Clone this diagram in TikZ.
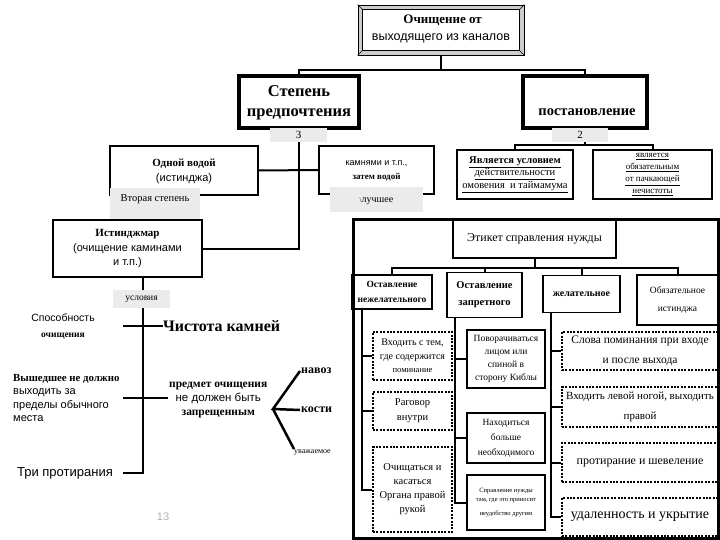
\documentclass[tikz,border=0pt]{standalone}
\usepackage{fontspec}
\setmainfont{Liberation Serif}
\newfontfamily\sansf{Liberation Sans}
\newcommand\fsz[2]{\fontsize{#1}{#2}\selectfont}
\begin{document}
\begin{tikzpicture}[x=1pt,y=-1pt,
  conn/.style={line width=2pt},
  tbox/.style={draw, line width=4pt},
  box/.style={draw, line width=1.6pt, align=center, inner sep=1pt},
  dbox/.style={draw, line width=1.6pt, dash pattern=on 2pt off 1.4pt, align=center, inner sep=1pt},
  lbl/.style={fill=gray!16, inner sep=0pt},
  txt/.style={align=center, inner sep=1pt}]
\useasboundingbox (0,0) rectangle (720,540);
\fill[white] (0,0) rectangle (720,540);

% ---- top bevel box
\node[draw, fill=gray!40, line width=0.8pt, minimum width=166pt, minimum height=50pt] (top) at (441,30) {};
\draw[fill=white, line width=0.8pt] ([xshift=5pt,yshift=-5pt]top.north west) rectangle ([xshift=-5pt,yshift=5pt]top.south east);
\draw[line width=0.6pt] (top.north west) -- ([xshift=5pt,yshift=-5pt]top.north west);
\draw[line width=0.6pt] (top.north east) -- ([xshift=-5pt,yshift=-5pt]top.north east);
\draw[line width=0.6pt] (top.south west) -- ([xshift=5pt,yshift=5pt]top.south west);
\draw[line width=0.6pt] (top.south east) -- ([xshift=-5pt,yshift=5pt]top.south east);
\node[txt, font=\fsz{12.5}{17}] (toptxt) at (441,29) {{\bfseries\fsz{13}{17} Очищение от}\\{\sansf выходящего из каналов}};

% ---- second level
\node[tbox, minimum width=120pt, minimum height=52pt] (step) at (299,102) {};
\node[txt, font=\bfseries\fsz{16.5}{20}] (steptxt) at (299,103) {Степень\\предпочтения};
\node[tbox, minimum width=124pt, minimum height=52pt] (post) at (585,102) {};
\node[txt, font=\bfseries\fsz{14.5}{16}] (posttxt) at (587,112) {постановление};

\draw[conn] (top.south) -- ++(0,15) -| (step.north);
\draw[conn] (top.south) ++(0,15) -| (post.north);

% ---- left branch boxes
\node[box, line width=1.4pt, minimum width=148pt, minimum height=49pt] (odnoy) at (184,170.5) {};
\node[txt, font=\fsz{11}{15}] (odnoytxt) at (184,171) {{\bfseries Одной водой}\\{\sansf (истинджа)}};
\node[box, line width=1.4pt, minimum width=115pt, minimum height=48pt] (kamn) at (376.5,170) {};
\node[txt, font=\fsz{9}{14}] (kamntxt) at (376.5,171) {{\sansf камнями и т.п.,}\\{\bfseries затем водой}};
\node[box, line width=1.4pt, minimum width=149pt, minimum height=57pt] (istinj) at (127.5,248.5) {};
\node[txt, font=\fsz{11}{14.5}] (istinjtxt) at (127.5,249) {{\bfseries Истинджмар}\\{\sansf (очищение каминами}\\{\sansf и т.п.)}};

\draw[conn] (odnoy.east) -- (kamn.west);
\draw[conn] (step.south) |- (istinj.east);

\node[lbl, minimum width=57pt, minimum height=14pt, font=\fsz{11}{13}] (l3) at (298.5,135) {3};
\node[lbl, minimum width=90pt, minimum height=31pt] (l2st) at (155,203.5) {};
\node[font=\fsz{10.5}{12}, inner sep=0pt] (l2sttxt) at (155,199) {Вторая степень};
\node[lbl, minimum width=93pt, minimum height=25pt] (lbest) at (376.5,199.5) {};
\node[font=\fsz{10}{12}, inner sep=0pt] (lbesttxt) at (376.5,201) {{\fsz{7}{8}\textbackslash}лучшее};

% ---- right branch boxes
\node[box, line width=1.4pt, minimum width=116pt, minimum height=49pt, font=\fsz{10.5}{12.5}] (usl) at (515,174.5) {\underline{\bfseries Является условием}\\\underline{действительности}\\\underline{омовения\ \ и таймамума}};
\node[box, line width=1.4pt, minimum width=119pt, minimum height=49pt, font=\fsz{9}{12}] (obz) at (652.5,174.5) {\underline{является}\\\underline{обязательным}\\\underline{от пачкающей}\\\underline{нечистоты}};
\draw[conn] (post.south) -- ++(0,15) -| (usl.north);
\draw[conn] (post.south) ++(0,15) -| (obz.north);
\node[lbl, minimum width=56pt, minimum height=14pt, font=\fsz{11}{13}] (l2) at (580,135) {2};

% ---- big frame
\node[draw, line width=3pt, minimum width=365pt, minimum height=318pt] (frame) at (535.5,379) {};
\node[box, line width=2pt, minimum width=163pt, minimum height=38pt, font=\fsz{12}{14}] (etik) at (534.5,239) {Этикет справления нужды};

\node[box, minimum width=80pt, minimum height=34pt, font=\bfseries\fsz{9.5}{15}] (ostN) at (392,292) {Оставление\\нежелательного};
\node[box, minimum width=75pt, minimum height=45pt, font=\bfseries\fsz{10.5}{17}] (ostZ) at (484.5,295) {Оставление\\запретного};
\node[box, minimum width=77pt, minimum height=37pt, font=\bfseries\fsz{10}{12}] (zhel) at (581.5,294) {желательное};
\node[box, minimum width=81pt, minimum height=50pt, font=\fsz{9.5}{18}] (obyaz) at (677.5,300) {Обязательное\\истинджа};

\draw[conn] (etik.south) -- ++(0,9) -| (ostN.north);
\draw[conn] (etik.south) ++(0,9) -| (ostZ.north);
\draw[conn] (etik.south) ++(0,9) -| (zhel.north);
\draw[conn] (etik.south) ++(0,9) -| (obyaz.north);

% column 1
\node[dbox, minimum width=79pt, minimum height=48pt, font=\fsz{10}{13.5}] (c1a) at (412.5,356) {Входить с тем,\\где содержится\\{\fsz{8.5}{10}поминание}};
\node[dbox, minimum width=79pt, minimum height=38pt, font=\fsz{10.5}{15}] (c1b) at (412.5,411) {Раговор\\внутри};
\node[dbox, minimum width=79pt, minimum height=85pt, font=\fsz{10.5}{14}] (c1c) at (412.5,489.5) {Очищаться и\\касаться\\Органа правой\\рукой};
\draw[conn] ([xshift=-30pt]ostN.south) |- (c1a.west);
\draw[conn] ([xshift=-30pt]ostN.south) |- (c1b.west);
\draw[conn] ([xshift=-30pt]ostN.south) |- (c1c.west);

% column 2
\node[box, minimum width=78pt, minimum height=58pt, font=\fsz{9.5}{13}] (c2a) at (506,359) {Поворачиваться\\лицом или\\спиной в\\сторону Киблы};
\node[box, minimum width=78pt, minimum height=50pt, font=\fsz{9.5}{15}] (c2b) at (506,438) {Находиться\\больше\\необходимого};
\node[box, minimum width=78pt, minimum height=55pt, font=\fsz{6.5}{9}] (c2c) at (506,502.5) {Справление нужды\\там, где это приносит\\[5pt]неудобство другим};
\draw[conn] ([xshift=-29.5pt]ostZ.south) |- (c2a.west);
\draw[conn] ([xshift=-29.5pt]ostZ.south) |- (c2b.west);
\draw[conn] ([xshift=-29.5pt]ostZ.south) |- (c2c.west);

% column 3
\node[dbox, minimum width=156pt, minimum height=38pt, font=\fsz{11.5}{20}] (c3a) at (640,351) {Слова поминания при входе\\и после выхода};
\node[dbox, minimum width=156pt, minimum height=40pt, font=\fsz{11}{20}] (c3b) at (640,407) {Входить левой ногой, выходить\\правой};
\node[dbox, minimum width=156pt, minimum height=39pt, font=\fsz{12}{14}] (c3c) at (640,462.5) {протирание и шевеление};
\node[dbox, minimum width=156pt, minimum height=38pt, font=\fsz{14}{16}] (c3d) at (640,517) {удаленность и укрытие};
\draw[conn] ([xshift=-30.5pt]zhel.south) |- (c3a.west);
\draw[conn] ([xshift=-30.5pt]zhel.south) |- (c3b.west);
\draw[conn] ([xshift=-30.5pt]zhel.south) |- (c3c.west);
\draw[conn] ([xshift=-30.5pt]zhel.south) |- (c3d.west);

% ---- lower left tree
\coordinate (istb) at ([xshift=15.5pt]istinj.south);
\coordinate (s1) at (123,326);
\coordinate (s2) at (123,398);
\coordinate (s3) at (123,473);
\node[font=\bfseries\fsz{16}{18}, anchor=west, inner sep=0pt] (chist) at (163,326) {Чистота камней};
\node[txt, anchor=west, font=\fsz{11.5}{14}] (predm) at (168,400) {{\bfseries предмет очищения}\\{\sansf не должен быть}\\{\bfseries запрещенным}};
\draw[conn, line width=2.5pt] (istb) -- (istb |- s3) -- (s3);
\draw[conn] (s1) -- (chist.west);
\draw[conn] (s2) -- (predm.west |- s2);
\node[lbl, minimum width=57pt, minimum height=18pt, font=\fsz{9.5}{11}] (lusl) at (141.5,299) {условия};

\node[txt, font=\fsz{10.5}{16}] (sposob) at (63,326) {{\sansf Способность}\\{\bfseries\fsz{9.5}{11}очищения}};
\node[align=left, anchor=north west, inner sep=0pt, font=\fsz{11}{13.5}] (vysh) at (13,374) {{\bfseries\fsz{10.8}{13.5}Вышедшее не должно}\\{\sansf выходить за}\\{\sansf пределы обычного}\\{\sansf места}};
\node[font=\sansf\fsz{13}{15}, anchor=east, inner sep=0pt] (tri) at (113,473) {Три протирания};

\coordinate (br) at (273,409);
\node[font=\bfseries\fsz{12}{14}, anchor=west, inner sep=1pt] (navoz) at (300,371) {навоз};
\node[font=\bfseries\fsz{12}{14}, anchor=west, inner sep=1pt] (kosti) at (300,410) {кости};
\node[font=\fsz{8}{10}, anchor=west, inner sep=0pt] (uvazh) at (294,452) {уважаемое};
\draw[line width=2.5pt] (navoz.west) -- (br) -- (kosti.west);
\draw[line width=2.5pt] (br) -- (uvazh.north west);

\node[font=\sansf\fsz{11}{13}, text=gray!60, inner sep=0pt] (pg) at (163,517) {13};
\end{tikzpicture}
\end{document}
